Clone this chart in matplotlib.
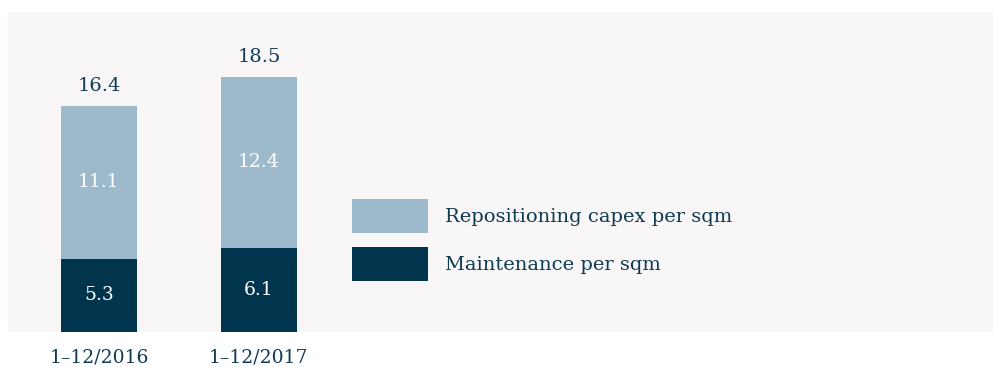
import numpy as np
import matplotlib.pyplot as plt

# capex per sqm, split into the two components
periods = ['1–12/2016', '1–12/2017']
maintenance = [5.3, 6.1]
repositioning = [11.1, 12.4]
totals = [16.4, 18.5]

dark = '#01344d'
light = '#9dbacc'
text_col = '#0e3a52'
bg = '#f8f6f7'

plt.rcParams['font.family'] = ['DejaVu Serif']

fig = plt.figure(figsize=(9.93, 3.67), dpi=100)
ax = fig.add_axes([8 / 993, 35 / 367, 985 / 993, 320 / 367])
ax.set_facecolor(bg)

x = np.arange(len(periods))
w = 0.475
b1 = ax.bar(x, maintenance, w, color=dark, label='Maintenance per sqm')
b2 = ax.bar(x, repositioning, w, bottom=maintenance, color=light,
            label='Repositioning capex per sqm')

for i in range(len(periods)):
    ax.text(x[i], maintenance[i] / 2, f'{maintenance[i]:.1f}', ha='center', va='center',
            color='white', fontsize=13.5)
    ax.text(x[i], maintenance[i] + repositioning[i] / 2, f'{repositioning[i]:.1f}',
            ha='center', va='center', color='white', fontsize=13.5)
    ax.text(x[i], totals[i] + 0.75, f'{totals[i]:.1f}', ha='center', va='bottom',
            color=text_col, fontsize=14)

ax.set_xlim(-0.569, 5.59)
ax.set_ylim(0, 23.2)
ax.set_xticks(x)
ax.set_xticklabels(periods, fontsize=13.5, color=text_col)
ax.tick_params(axis='x', length=0, pad=12)
ax.set_yticks([])
for s in ax.spines.values():
    s.set_visible(False)

leg = ax.legend(handles=[b2, b1], loc='center left',
                bbox_to_anchor=(352 / 993, 1 - 240 / 367), bbox_transform=fig.transFigure,
                frameon=False, fontsize=14, handlelength=3.9, handleheight=2.24,
                labelspacing=0.77, handletextpad=0.88, borderpad=0, borderaxespad=0)
for t in leg.get_texts():
    t.set_color(text_col)

fig.savefig('out.png', dpi=100, facecolor='white')
